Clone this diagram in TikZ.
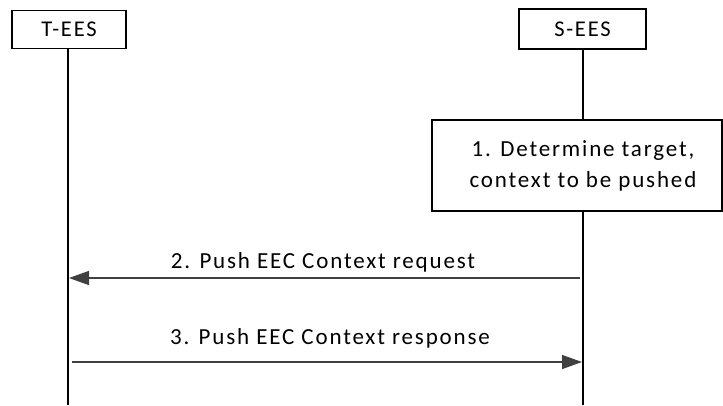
\documentclass[tikz,border=0pt]{standalone}
\usepackage{fontspec}
\setmainfont{Carlito}[LetterSpace=8]
\usetikzlibrary{arrows.meta}
\definecolor{arrowgray}{HTML}{404040}
\begin{document}
\begin{tikzpicture}[x=1pt,y=-1pt,
  entity/.style={draw=black,line width=1.6pt,fill=white,inner sep=0pt,font=\fontsize{22.5}{26}\selectfont},
  lifeline/.style={draw=black,line width=1.8pt},
  msg/.style={draw=arrowgray,line width=1.4pt,-{Triangle[length=20pt,width=14pt]}},
  lbl/.style={font=\fontsize{23}{27}\selectfont,inner sep=0pt,anchor=base}]
\useasboundingbox[fill=white] (0,0) rectangle (723,405);
% lifelines
\coordinate (tbot) at (68,405);
\coordinate (sbot) at (583,405);
\node[entity,minimum width=114pt,minimum height=38pt] (tees) at (69,29.5) {T-EES};
\node[entity,minimum width=127pt,minimum height=40pt] (sees) at (582.5,29) {S-EES};
\draw[lifeline] (tees.south -| tbot) -- (tbot);
\draw[lifeline] (sees.south -| sbot) -- (sbot);
% step 1
\node[draw=black,line width=1.6pt,fill=white,minimum width=290pt,minimum height=91pt,
  align=center,font=\fontsize{23}{31}\selectfont] (det) at (577,165.5)
  {\hspace*{12pt}1. Determine target,\\\hspace*{12pt}context to be pushed};
% messages
\coordinate (m2s) at (580,278);
\coordinate (m2e) at (69,278);
\draw[msg] (m2s) -- (m2e);
\node[lbl] (l2) at (323,268) {2. Push EEC Context request};
\coordinate (m3s) at (72,362);
\coordinate (m3e) at (582,362);
\draw[msg] (m3s) -- (m3e);
\node[lbl] (l3) at (330,344) {3. Push EEC Context response};
\end{tikzpicture}
\end{document}
